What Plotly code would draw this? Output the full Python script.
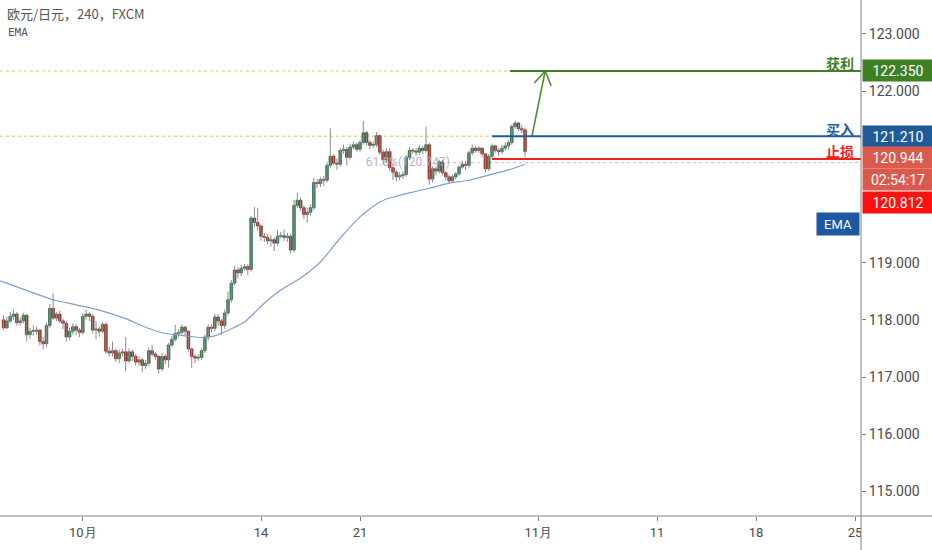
import plotly.graph_objects as go

# ---------------- data ----------------
opens = [118.00, 117.86, 117.98, 118.06, 118.10, 117.95, 117.98, 118.08, 117.74, 117.80,
         117.80, 117.82, 117.62, 117.58, 117.90, 118.20, 118.03, 118.10, 117.98, 117.94,
         117.70, 117.80, 117.88, 117.82, 117.78, 118.06, 118.10, 118.06, 117.82, 117.84,
         117.80, 117.92, 117.45, 117.42, 117.46, 117.32, 117.42, 117.44, 117.28, 117.44,
         117.36, 117.26, 117.30, 117.20, 117.24, 117.46, 117.40, 117.36, 117.14, 117.36,
         117.30, 117.56, 117.66, 117.76, 117.78, 117.87, 117.80, 117.49, 117.36, 117.33,
         117.34, 117.46, 117.70, 117.87, 117.85, 118.05, 117.98, 117.90, 118.12, 118.35,
         118.64, 118.87, 118.82, 118.90, 118.93, 118.88, 119.78, 119.70, 119.64, 119.46,
         119.44, 119.38, 119.40, 119.34, 119.46, 119.47, 119.44, 119.46, 119.22, 120.00,
         120.09, 119.96, 119.84, 119.88, 119.96, 120.40, 120.38, 120.45, 120.44, 120.70,
         120.86, 120.74, 120.72, 120.96, 120.98, 120.84, 121.02, 121.06, 120.98, 121.10,
         121.27, 121.10, 121.05, 121.06, 121.22, 120.93, 120.80, 120.94, 120.66, 120.58,
         120.50, 120.52, 120.54, 120.84, 120.96, 120.95, 120.93, 121.00, 120.96, 121.06,
         120.46, 120.64, 120.60, 120.76, 120.57, 120.50, 120.43, 120.50, 120.55, 120.67,
         120.72, 120.70, 120.92, 121.00, 120.96, 121.00, 120.90, 120.64, 120.86, 121.04,
         120.96, 120.94, 121.00, 121.04, 121.10, 121.38, 121.44, 121.34, 121.32]
highs = [118.08, 118.05, 118.14, 118.18, 118.14, 118.04, 118.12, 118.10, 117.86, 117.90,
         117.88, 117.84, 117.70, 117.94, 118.28, 118.47, 118.14, 118.16, 118.02, 117.98,
         117.86, 117.94, 117.92, 117.86, 118.12, 118.18, 118.14, 118.10, 117.98, 117.88,
         117.96, 117.96, 117.52, 117.62, 117.50, 117.48, 117.50, 117.70, 117.50, 117.48,
         117.40, 117.36, 117.34, 117.30, 117.52, 117.56, 117.44, 117.38, 117.42, 117.40,
         117.60, 117.72, 117.91, 117.84, 117.92, 117.90, 117.82, 117.52, 117.40, 117.40,
         117.50, 117.74, 117.92, 117.92, 118.10, 118.10, 118.02, 118.18, 118.50, 118.70,
         118.94, 118.92, 118.96, 118.98, 118.97, 119.82, 119.97, 119.96, 119.68, 119.52,
         119.50, 119.48, 119.44, 119.56, 119.54, 119.58, 119.52, 119.50, 120.10, 120.22,
         120.14, 120.00, 119.96, 120.02, 120.48, 120.46, 120.50, 120.52, 120.76, 121.35,
         120.90, 120.82, 121.00, 121.06, 121.02, 121.08, 121.12, 121.10, 121.14, 121.48,
         121.30, 121.14, 121.12, 121.28, 121.24, 120.98, 121.00, 121.00, 120.72, 120.62,
         120.58, 120.60, 120.88, 121.02, 121.00, 121.00, 121.06, 121.04, 121.37, 121.10,
         120.68, 120.68, 120.80, 120.80, 120.60, 120.54, 120.54, 120.58, 120.70, 120.78,
         120.78, 120.96, 121.06, 121.04, 121.04, 121.02, 120.92, 120.90, 121.08, 121.06,
         121.00, 121.06, 121.10, 121.14, 121.42, 121.48, 121.46, 121.40, 121.36]
lows = [117.82, 117.84, 117.94, 118.00, 117.90, 117.90, 117.94, 117.62, 117.66, 117.72,
        117.74, 117.55, 117.48, 117.52, 117.86, 118.00, 117.98, 117.94, 117.84, 117.62,
        117.64, 117.74, 117.74, 117.70, 117.74, 118.00, 117.98, 117.76, 117.66, 117.70,
        117.76, 117.40, 117.36, 117.36, 117.26, 117.24, 117.36, 117.10, 117.24, 117.28,
        117.20, 117.20, 117.09, 117.14, 117.20, 117.36, 117.30, 117.06, 117.10, 117.22,
        117.16, 117.52, 117.62, 117.70, 117.74, 117.72, 117.44, 117.16, 117.24, 117.28,
        117.30, 117.42, 117.64, 117.78, 117.80, 117.90, 117.74, 117.84, 118.08, 118.30,
        118.60, 118.72, 118.76, 118.86, 118.78, 118.84, 119.62, 119.56, 119.38, 119.36,
        119.32, 119.28, 119.20, 119.30, 119.42, 119.38, 119.36, 119.16, 119.18, 119.96,
        119.90, 119.76, 119.70, 119.82, 119.92, 120.30, 120.32, 120.34, 120.40, 120.66,
        120.70, 120.62, 120.68, 120.90, 120.70, 120.80, 120.98, 120.94, 120.94, 121.06,
        121.04, 120.98, 121.00, 121.02, 120.88, 120.72, 120.74, 120.60, 120.44, 120.42,
        120.44, 120.46, 120.50, 120.80, 120.90, 120.86, 120.88, 120.90, 120.92, 120.36,
        120.40, 120.52, 120.56, 120.52, 120.44, 120.38, 120.40, 120.46, 120.52, 120.64,
        120.62, 120.66, 120.88, 120.92, 120.92, 120.84, 120.58, 120.60, 120.82, 120.92,
        120.86, 120.90, 120.96, 120.98, 121.06, 121.34, 121.30, 121.26, 120.85]
closes = [117.86, 117.98, 118.06, 118.10, 117.95, 117.98, 118.08, 117.74, 117.80, 117.80,
          117.82, 117.62, 117.58, 117.90, 118.20, 118.03, 118.10, 117.98, 117.94, 117.70,
          117.80, 117.88, 117.82, 117.78, 118.06, 118.10, 118.06, 117.82, 117.84, 117.80,
          117.92, 117.45, 117.42, 117.46, 117.32, 117.42, 117.44, 117.28, 117.44, 117.36,
          117.26, 117.30, 117.20, 117.24, 117.46, 117.40, 117.36, 117.14, 117.36, 117.30,
          117.56, 117.66, 117.76, 117.78, 117.87, 117.80, 117.49, 117.36, 117.33, 117.34,
          117.46, 117.70, 117.87, 117.85, 118.05, 117.98, 117.90, 118.12, 118.35, 118.64,
          118.87, 118.82, 118.90, 118.93, 118.88, 119.78, 119.70, 119.64, 119.46, 119.44,
          119.38, 119.40, 119.34, 119.46, 119.47, 119.44, 119.46, 119.22, 120.00, 120.09,
          119.96, 119.84, 119.88, 119.96, 120.40, 120.38, 120.45, 120.44, 120.70, 120.86,
          120.74, 120.72, 120.96, 120.98, 120.84, 121.02, 121.06, 120.98, 121.10, 121.27,
          121.10, 121.05, 121.06, 121.22, 120.93, 120.80, 120.94, 120.66, 120.58, 120.50,
          120.52, 120.54, 120.84, 120.96, 120.95, 120.93, 121.00, 120.96, 121.06, 120.46,
          120.64, 120.60, 120.76, 120.57, 120.50, 120.43, 120.50, 120.55, 120.67, 120.72,
          120.70, 120.92, 121.00, 120.96, 121.00, 120.90, 120.64, 120.86, 121.04, 120.96,
          120.94, 121.00, 121.04, 121.10, 121.38, 121.44, 121.34, 121.32, 120.944]

ema_bars = [-1, 9, 15, 22, 29, 37, 43, 49, 55, 60, 64, 67, 70, 73, 76, 79, 84, 90, 96,
            102, 108, 114, 117, 123, 129, 135, 141, 147, 153, 158]
ema_vals = [118.68, 118.47, 118.35, 118.26, 118.17, 118.02, 117.87, 117.76, 117.72, 117.69,
            117.72, 117.79, 117.87, 117.96, 118.12, 118.29, 118.52, 118.73, 119.01,
            119.43, 119.80, 120.06, 120.13, 120.22, 120.30, 120.39, 120.44, 120.53, 120.62, 120.72]

# date ticks: bar index of the first bar of each labelled day
tick_bars = [24, 78, 108, 162, 198, 228, 258]
tick_labels = ["10月", "14", "21", "11月", "11", "18", "25"]
price_ticks = [115, 116, 117, 118, 119, 122, 123]

take_profit = 122.350
entry = 121.210
stop_loss = 120.812
fib_level = 120.747
last_price = 120.944
countdown = "02:54:17"

# ---------------- styling / layout ----------------
GREEN_UP = "#3a8a5a"
RED_DN = "#ad3526"
WICK = "#8a8a8a"
TP_COL = "#3f7f26"
BUY_COL = "#1f5c99"
SL_COL = "#f21f1f"
AXIS_COL = "#808080"
TXT = "#4a4a4a"

n = len(closes)
idx = list(range(n))
up = [c >= o for o, c in zip(opens, closes)]

fig = go.Figure()

# fib label (behind candles)
fig.add_trace(go.Scatter(x=[122.5], y=[fib_level], mode="text", text=["61.8%(120.747)"],
                         textfont=dict(family="Roboto", size=12, color="#aab5d6"),
                         hoverinfo="skip", showlegend=False))

# EMA
fig.add_trace(go.Scatter(x=ema_bars, y=ema_vals, mode="lines",
                         line=dict(color="#7d9fd4", width=1.2, shape="spline", smoothing=0.6),
                         hoverinfo="skip", showlegend=False))

# wicks
wx, wy = [], []
for i, h, l in zip(idx, highs, lows):
    wx += [i, i, None]
    wy += [l, h, None]
fig.add_trace(go.Scatter(x=wx, y=wy, mode="lines", line=dict(color=WICK, width=1),
                         hoverinfo="skip", showlegend=False))

# bodies
base = [min(o, c) for o, c in zip(opens, closes)]
height = [max(abs(c - o), 0.016) for o, c in zip(opens, closes)]
fig.add_trace(go.Bar(x=idx, y=height, base=base, width=0.8,
                     marker=dict(color=[GREEN_UP if u else RED_DN for u in up],
                                 line=dict(color=["#24603c" if u else "#7a2016" for u in up], width=0.7)),
                     hoverinfo="skip", showlegend=False))

# arrow (shaft + open head)
fig.add_trace(go.Scatter(x=[160.1, 164.1], y=[entry, take_profit], mode="lines",
                         line=dict(color="#4b9030", width=1.6), hoverinfo="skip", showlegend=False))
fig.add_trace(go.Scatter(x=[160.8, 164.1, 165.9], y=[122.14, take_profit, 122.09], mode="lines",
                         line=dict(color="#4b9030", width=1.6), hoverinfo="skip", showlegend=False))

XR = [-1.09, 259.8]
YR = [114.570, 123.591]

shapes = [
    dict(type="line", xref="x", yref="y", x0=XR[0], x1=153.4, y0=take_profit, y1=take_profit,
         line=dict(color="#c7cf7a", width=1, dash="dot"), layer="below"),
    dict(type="line", xref="x", yref="y", x0=XR[0], x1=148, y0=entry, y1=entry,
         line=dict(color="#f0b45c", width=1, dash="dot"), layer="below"),
    dict(type="line", xref="x", yref="y", x0=134.4, x1=XR[1], y0=fib_level, y1=fib_level,
         line=dict(color="#b9bdc9", width=1, dash="dot"), layer="below"),
    dict(type="line", xref="x", yref="y", x0=153.4, x1=XR[1], y0=take_profit, y1=take_profit,
         line=dict(color=TP_COL, width=2)),
    dict(type="line", xref="x", yref="y", x0=148, x1=XR[1], y0=entry, y1=entry,
         line=dict(color=BUY_COL, width=2)),
    dict(type="line", xref="x", yref="y", x0=148, x1=XR[1], y0=stop_loss, y1=stop_loss,
         line=dict(color=SL_COL, width=2)),
    # hide the part of the last date label under the price scale
    dict(type="rect", xref="paper", yref="paper", x0=1.0, x1=1.09, y0=-0.07, y1=-0.001,
         fillcolor="white", line=dict(width=0), layer="above"),
    dict(type="line", xref="paper", yref="paper", x0=1.0, x1=1.0, y0=-0.07, y1=1.0,
         line=dict(color=AXIS_COL, width=1), layer="above"),
    dict(type="line", xref="paper", yref="paper", x0=0, x1=1.09, y0=0, y1=0,
         line=dict(color=AXIS_COL, width=1), layer="above"),
]

def box(text, price, color, yshift=0):
    return dict(xref="paper", yref="y", x=1.0, y=price, xanchor="left", yanchor="middle",
                xshift=1, yshift=yshift, text=text, showarrow=False, bgcolor=color,
                width=68, height=19, align="center",
                font=dict(family="Roboto", size=14, color="white"))

def tag(text, price, color, yshift):
    return dict(xref="paper", yref="y", x=1.0, y=price, xanchor="right", yanchor="middle",
                xshift=-5, yshift=yshift, text=text, showarrow=False,
                font=dict(family="Noto Sans CJK SC", size=14, color=color, weight=600))

annotations = [
    dict(xref="paper", yref="paper", x=0, y=1, xanchor="left", yanchor="top", xshift=5, yshift=-2,
         text="欧元/日元，240，FXCM", showarrow=False,
         font=dict(family="Noto Sans CJK SC", size=13, color="#555555")),
    dict(xref="paper", yref="paper", x=0, y=1, xanchor="left", yanchor="top", xshift=6, yshift=-24,
         text="EMA", showarrow=False, font=dict(family="DejaVu Sans Mono", size=11, color="#555555")),
    box("122.350", take_profit, TP_COL),
    box("121.210", entry, BUY_COL),
    box("120.944", last_price, "#db5a4e", yshift=-6),
    box(countdown, last_price, "#db5a4e", yshift=-28),
    box("120.812", stop_loss, "#ff1111", yshift=-43.5),
    dict(xref="paper", yref="y", x=1.0, y=119.675, xanchor="right", yanchor="middle", xshift=-1,
         text="EMA", showarrow=False, bgcolor="#1d58a0", width=40, height=20,
         font=dict(family="Roboto", size=13, color="white")),
    tag("获利", take_profit, TP_COL, 8),
    tag("买入", entry, BUY_COL, 7),
    tag("止损", stop_loss, SL_COL, 8),
]

fig.update_layout(
    width=932, height=550,
    margin=dict(l=0, r=71, t=0, b=34),
    paper_bgcolor="white", plot_bgcolor="white",
    showlegend=False, barmode="overlay", hovermode=False,
    shapes=shapes, annotations=annotations,
    xaxis=dict(range=XR, tickmode="array", tickvals=tick_bars, ticktext=tick_labels,
               showgrid=False, zeroline=False, showline=False, ticks="outside", ticklen=4,
               tickcolor=AXIS_COL, tickfont=dict(family="Roboto", size=13, color=TXT),
               rangeslider=dict(visible=False), fixedrange=True),
    yaxis=dict(range=YR, side="right", tickmode="array", tickvals=price_ticks,
               tickformat=".3f", showgrid=False, zeroline=False, showline=False,
               ticks="outside", ticklen=4, tickcolor=AXIS_COL,
               tickfont=dict(family="Roboto", size=14, color=TXT), fixedrange=True),
)

fig.write_html("out.html", config={"displayModeBar": False},
               post_script="document.body.style.margin='0';document.body.style.overflow='hidden';")
